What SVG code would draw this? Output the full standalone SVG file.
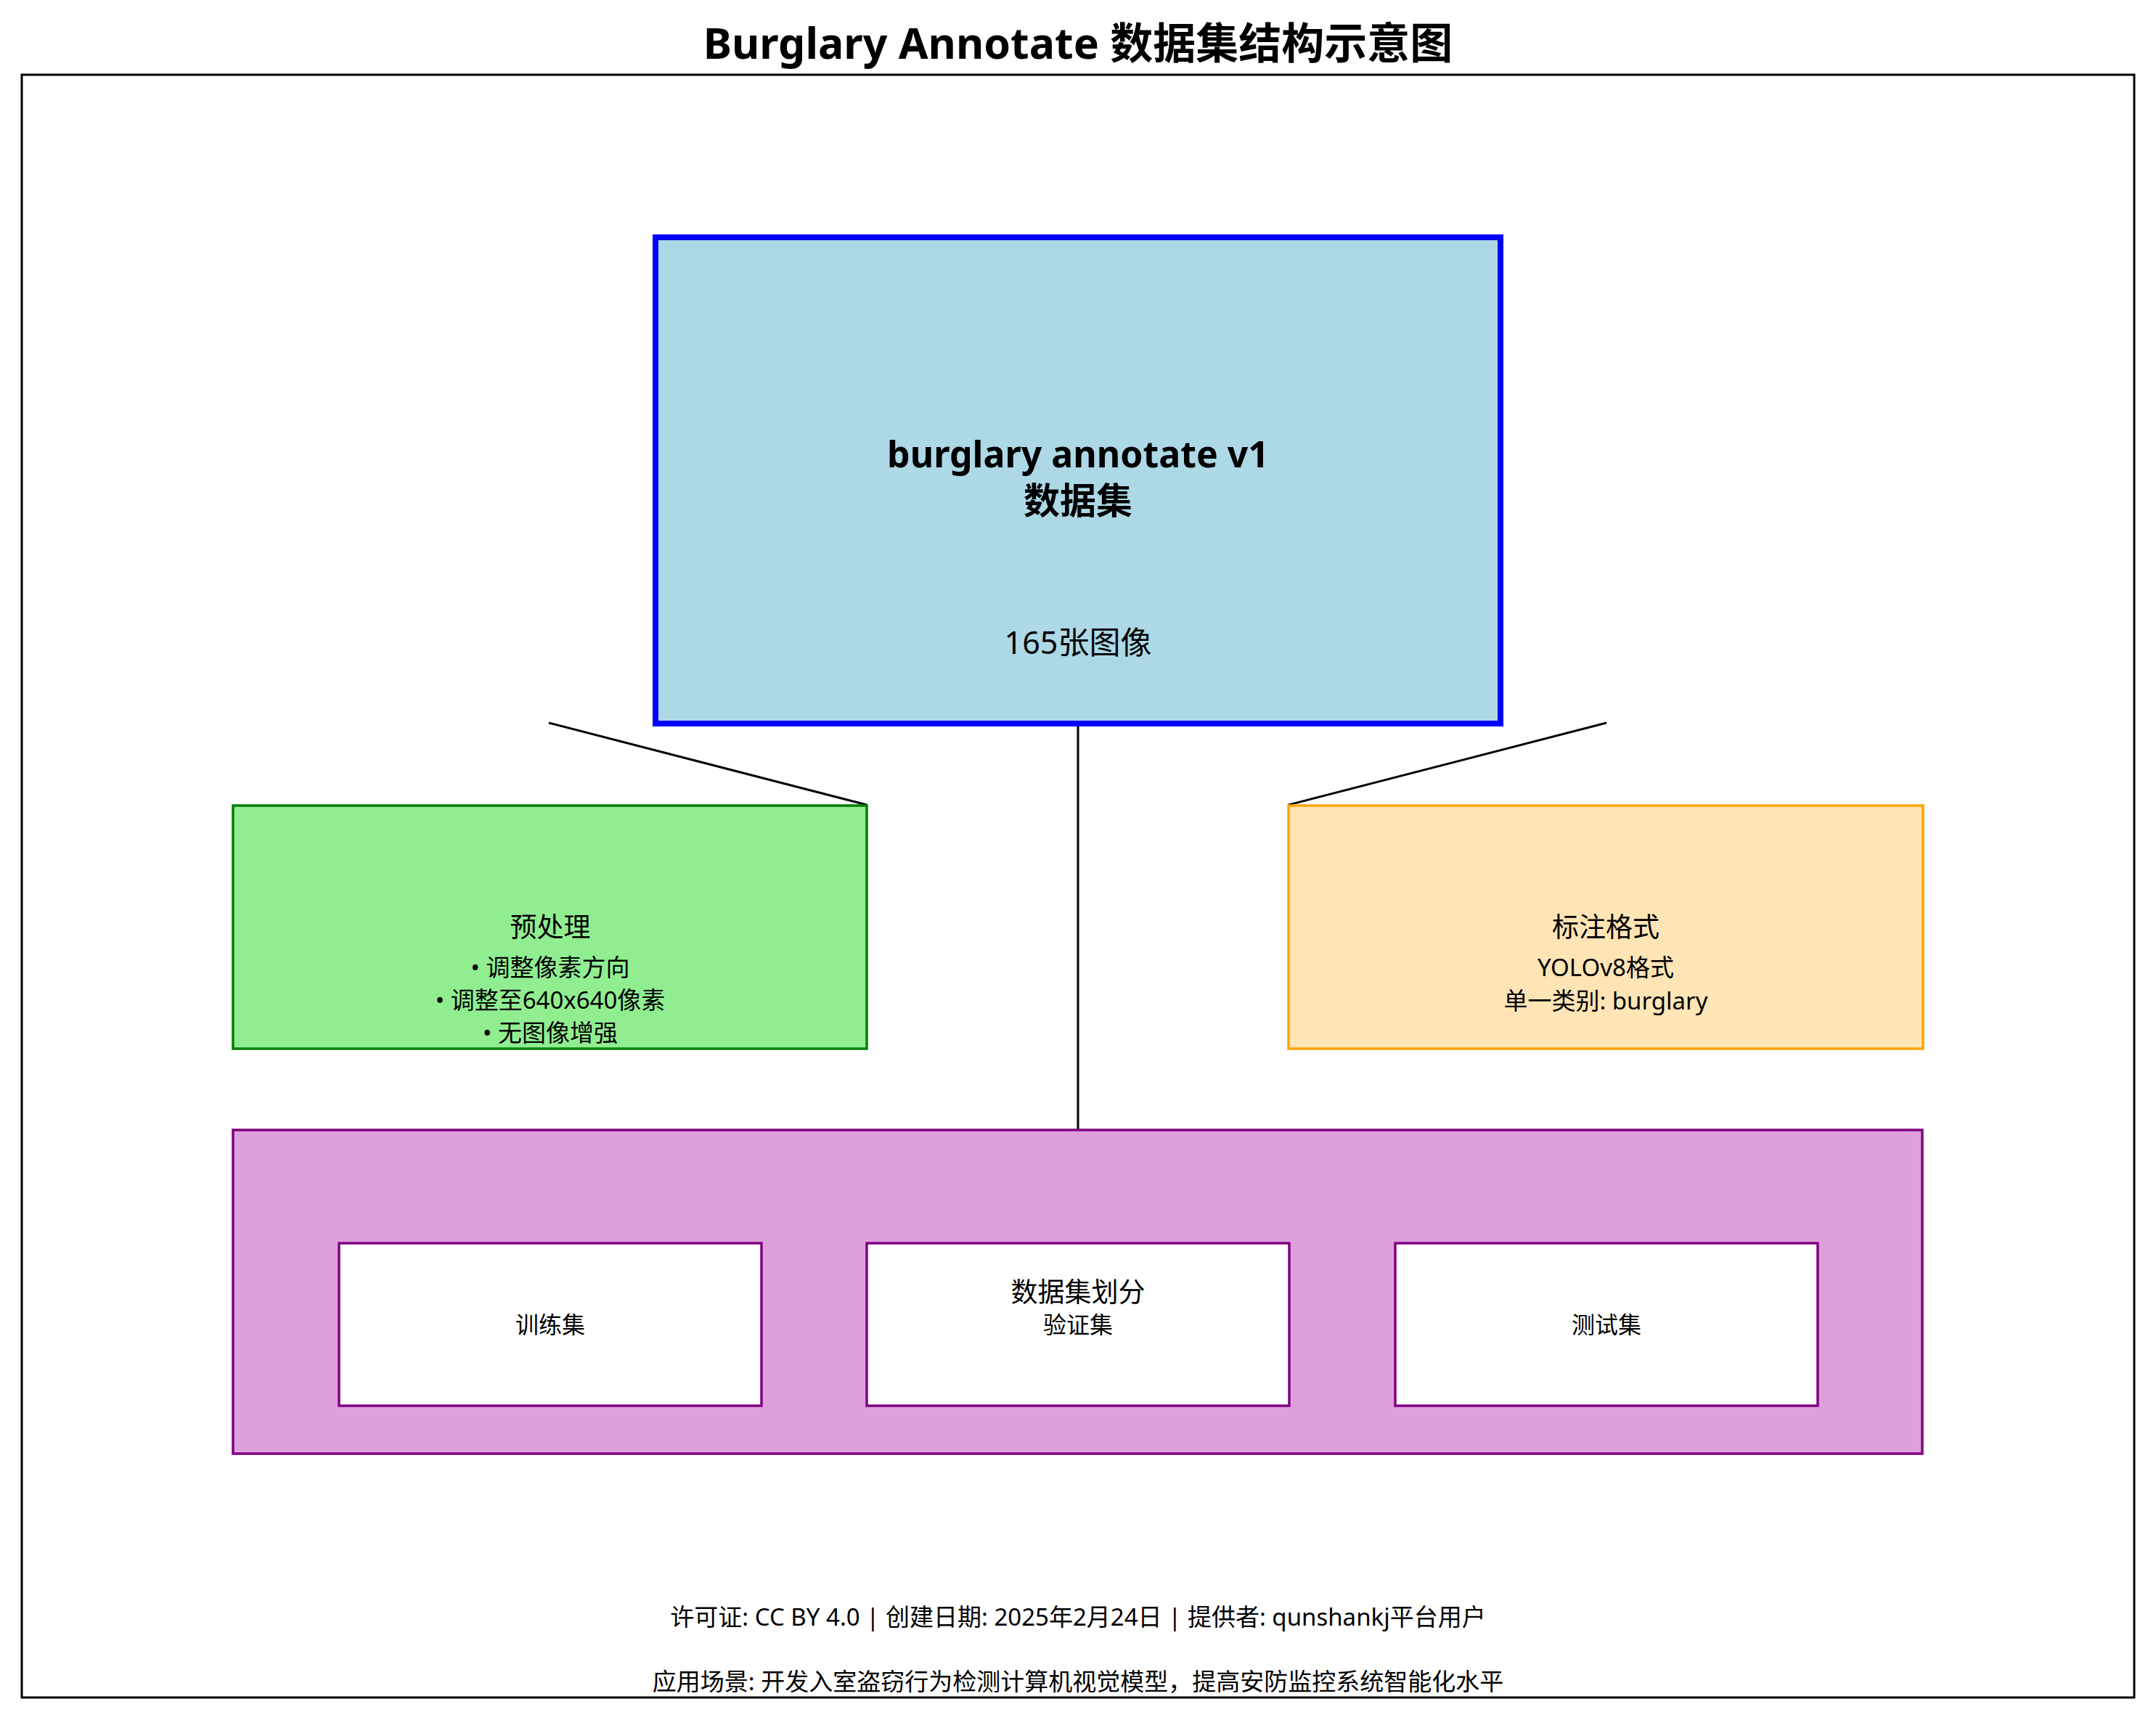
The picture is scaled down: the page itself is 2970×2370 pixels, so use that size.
<svg xmlns="http://www.w3.org/2000/svg" width="2970" height="2370" viewBox="0 0 2970 2370">
<style>
text{font-family:"Noto Sans","Noto Sans CJK SC",sans-serif;fill:#000;text-anchor:middle;dominant-baseline:central}
.title{font-size:59px;font-weight:bold}
.main{font-size:50px;font-weight:bold}
.h{font-size:37px}
.d{font-size:33px}
.s{font-size:32px}
.f{font-size:33px}
.conn{stroke:#000;stroke-width:3;fill:none}
</style>
<rect width="2970" height="2370" fill="#fff"/>
<text class="title" x="1485" y="58">Burglary Annotate 数据集结构示意图</text>
<rect x="30" y="103" width="2910" height="2236" fill="none" stroke="#000" stroke-width="3"/>
<g id="connectors">
<line class="conn" x1="756" y1="996" x2="1194" y2="1109"/>
<line class="conn" x1="2213" y1="996" x2="1775" y2="1109"/>
<line class="conn" x1="1485" y1="997" x2="1485" y2="1557"/>
</g>
<g id="main">
<rect x="903" y="327" width="1164" height="670" fill="#ADD8E6" stroke="#0000FF" stroke-width="8"/>
<text class="main" x="1485" y="625">burglary annotate v1</text>
<text class="main" x="1485" y="689">数据集</text>
<text x="1485" y="884" style="font-size:43px">165张图像</text>
</g>
<g id="preprocess">
<rect x="321" y="1110" width="873" height="335" fill="#90EE90" stroke="#008000" stroke-width="3.5"/>
<text class="h" x="758" y="1276">预处理</text>
<text class="d" x="758" y="1332">• 调整像素方向</text>
<text class="d" x="758" y="1377">• 调整至640x640像素</text>
<text class="d" x="758" y="1422">• 无图像增强</text>
</g>
<g id="annotation">
<rect x="1775" y="1110" width="874" height="335" fill="#FFE4B5" stroke="#FFA500" stroke-width="3.5"/>
<text class="h" x="2212" y="1276">标注格式</text>
<text class="d" x="2212" y="1332">YOLOv8格式</text>
<text class="d" x="2212" y="1378">单一类别: burglary</text>
</g>
<g id="split">
<rect x="321" y="1557" width="2327" height="446" fill="#DDA0DD" stroke="#800080" stroke-width="3.5"/>
<g id="train">
<rect x="467" y="1713" width="582" height="224" fill="#fff" stroke="#800080" stroke-width="3.5"/>
<text class="s" x="758" y="1824">训练集</text>
</g>
<g id="val">
<rect x="1194" y="1713" width="582" height="224" fill="#fff" stroke="#800080" stroke-width="3.5"/>
<text class="s" x="1485" y="1824">验证集</text>
</g>
<g id="test">
<rect x="1922" y="1713" width="582" height="224" fill="#fff" stroke="#800080" stroke-width="3.5"/>
<text class="s" x="2213" y="1824">测试集</text>
</g>
<text class="h" x="1485" y="1779">数据集划分</text>
</g>
<g id="footer">
<text class="f" x="1485" y="2227">许可证: CC BY 4.0 | 创建日期: 2025年2月24日 | 提供者: qunshankj平台用户</text>
<text class="f" x="1485" y="2316">应用场景: 开发入室盗窃行为检测计算机视觉模型，提高安防监控系统智能化水平</text>
</g>
</svg>
